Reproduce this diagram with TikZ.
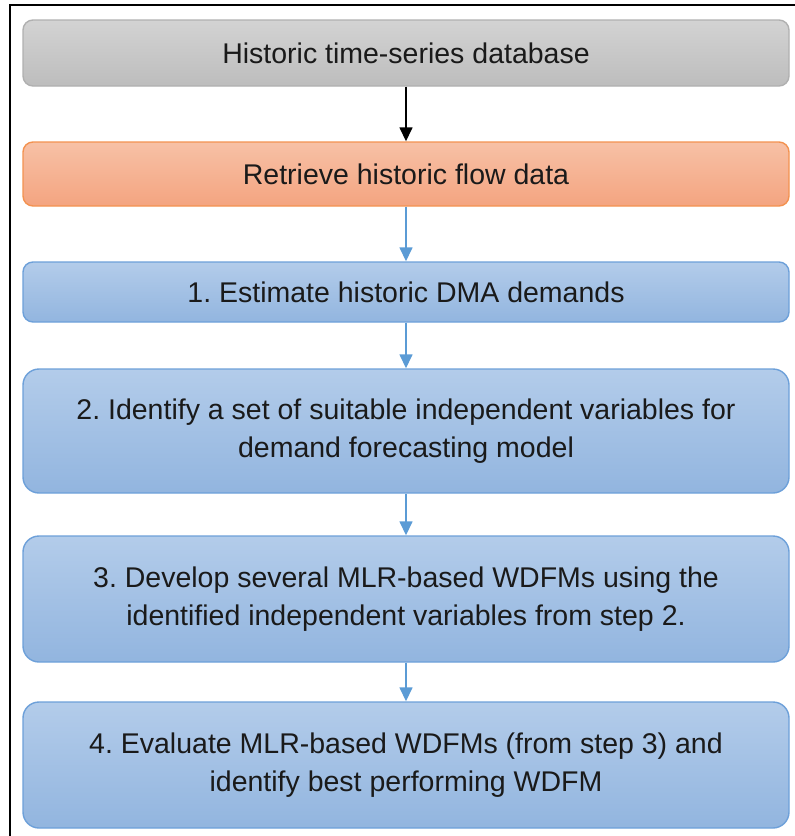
\documentclass[tikz,border=0pt]{standalone}
\usepackage{fontspec}
\setmainfont{Liberation Sans}
\usetikzlibrary{arrows.meta}
\frenchspacing

\definecolor{txt}{HTML}{1A1A1A}
\definecolor{greyTop}{HTML}{D3D3D3}
\definecolor{greyBot}{HTML}{BDBDBD}
\definecolor{greyLine}{HTML}{B0B0B0}
\definecolor{orTop}{HTML}{F7C1A6}
\definecolor{orBot}{HTML}{F4A480}
\definecolor{orLine}{HTML}{F39250}
\definecolor{blTop}{HTML}{B3CCEA}
\definecolor{blBot}{HTML}{92B5DF}
\definecolor{blLine}{HTML}{6DA0D9}
\definecolor{arrowBlue}{HTML}{5B9BD5}

\tikzset{
  flowbox/.style={rectangle, rounded corners=#1, minimum width=766pt,
    line width=1.4pt, align=center, text=txt, inner sep=0pt,
    font=\fontsize{28.5}{38}\selectfont},
  flowbox/.default=10pt,
  greybox/.style={flowbox, draw=greyLine, top color=greyTop, bottom color=greyBot},
  orangebox/.style={flowbox, draw=orLine, top color=orTop, bottom color=orBot},
  bluebox/.style={flowbox=#1, draw=blLine, top color=blTop, bottom color=blBot},
  bluebox/.default=10pt,
  flowarrow/.style={line width=1.5pt, -{Triangle[width=13pt,length=14pt]}},
}

\begin{document}
\begin{tikzpicture}[x=1pt, y=-1pt]
  \useasboundingbox (0,0) rectangle (795,836);
  \clip (0,0) rectangle (795,836);

  % outer frame (runs past the right and bottom edges)
  \draw[line width=2pt] (10,850) -- (10,5) -- (810,5);

  \node[greybox, minimum height=66pt] (db) at (406,53) {Historic time-series database};
  \node[orangebox, minimum height=64pt] (retrieve) at (406,174) {Retrieve historic flow data};
  \node[bluebox, minimum height=60pt] (s1) at (406,292) {1. Estimate historic DMA demands};
  \node[bluebox=16pt, minimum height=124pt] (s2) at (406,431)
    {2. Identify a set of suitable independent variables for\\demand forecasting model};
  \node[bluebox=16pt, minimum height=126pt] (s3) at (406,599)
    {3. Develop several MLR-based WDFMs using the\\identified independent variables from step 2.};
  \node[bluebox=16pt, minimum height=126pt] (s4) at (406,765)
    {4. Evaluate MLR-based WDFMs (from step 3) and\\identify best performing WDFM};

  \draw[flowarrow, black] (db) -- (retrieve);
  \draw[flowarrow, arrowBlue] (retrieve) -- (s1);
  \draw[flowarrow, arrowBlue] (s1) -- (s2);
  \draw[flowarrow, arrowBlue] (s2) -- (s3);
  \draw[flowarrow, arrowBlue] (s3) -- (s4);
\end{tikzpicture}
\end{document}
